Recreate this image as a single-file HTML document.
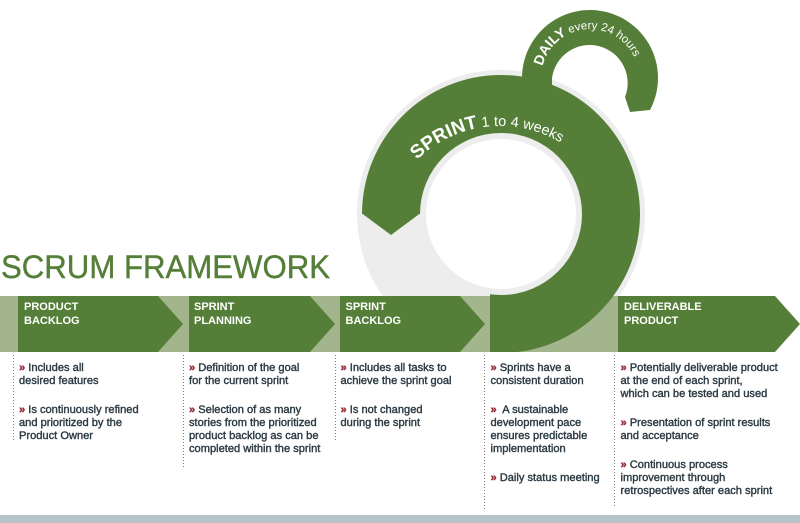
<!DOCTYPE html>
<html><head><meta charset="utf-8">
<style>
html,body{margin:0;padding:0;background:#fff;}
#wrap{position:relative;width:800px;height:523px;overflow:hidden;background:#fff;font-family:"Liberation Sans",Arial,sans-serif;}
svg{position:absolute;left:0;top:0;}
.hd{position:absolute;top:301.3px;color:#fff;font-weight:bold;font-size:11px;line-height:13.3px;white-space:nowrap;}
.col{position:absolute;top:361.6px;color:#2c3b44;font-size:11.1px;line-height:13.3px;white-space:nowrap;-webkit-text-stroke:0.4px #2c3b44;}
.col p{margin:0 0 15.4px 0;}
.col b{color:#962c3a;-webkit-text-stroke:0.4px #962c3a;}
</style></head><body>
<div id="wrap">
<svg width="800" height="523" viewBox="0 0 800 523" xmlns="http://www.w3.org/2000/svg">
  <defs>
    <clipPath id="gc">
      <rect x="0" y="0" width="800" height="214"/>
      <rect x="490" y="0" width="310" height="352"/>
    </clipPath>
    <clipPath id="above"><rect x="0" y="0" width="800" height="352"/></clipPath>
    <path id="sp" d="M417.1,159.8 A118.5,118.5 0 0,1 576.2,153.7"/>
    <path id="dp" d="M542.5,66.1 A49,49 0 0,1 638.8,73.7"/>
  </defs>
  <circle cx="501" cy="214" r="144" fill="#ecedec" clip-path="url(#above)"/>
  <rect x="0" y="296" width="618" height="56" fill="#a3b58c"/>
  <circle cx="501" cy="214" r="139" fill="#557f38" clip-path="url(#gc)"/>
  <polygon points="362,213.5 391,235 420,213.5" fill="#557f38"/>
  <circle cx="501" cy="214" r="81" fill="#ecedec"/>
  <circle cx="501" cy="214" r="75" fill="#fff"/>
  <polygon points="18,296 158,296 183,324 158,352 18,352" fill="#557f38"/>
  <polygon points="189,296 310,296 335,324 310,352 189,352" fill="#557f38"/>
  <polygon points="340,296 460,296 485,324 460,352 340,352" fill="#557f38"/>
  <polygon points="618,296 775,296 800,324 775,352 618,352" fill="#557f38"/>
  <path d="M522,78 A68,68 0 1,1 650,110 L630,112 L625,97 A38,38 0 1,0 552,78 Z" fill="#557f38"/>
  <rect x="522" y="77" width="30" height="22" fill="#557f38"/>
  <text fill="#fff" font-family="Liberation Sans, Arial, sans-serif"><textPath href="#sp"><tspan font-weight="bold" font-size="19">SPRINT</tspan><tspan font-size="14.5" dx="4">1 to 4 weeks</tspan></textPath></text>
  <text fill="#fff" font-family="Liberation Sans, Arial, sans-serif"><textPath href="#dp"><tspan font-weight="bold" font-size="14">DAILY</tspan><tspan font-size="11.5" dx="3">every 24 hours</tspan></textPath></text>
  <text x="1" y="278" font-family="Liberation Sans, Arial, sans-serif" font-size="32.5" fill="#557f38" stroke="#557f38" stroke-width="0.4" textLength="329" lengthAdjust="spacingAndGlyphs">SCRUM FRAMEWORK</text>
  <g stroke="#7d7d7d" stroke-width="1" stroke-dasharray="1 2">
    <line x1="13.5" y1="355" x2="13.5" y2="440"/>
    <line x1="183.5" y1="355" x2="183.5" y2="467"/>
    <line x1="335.5" y1="355" x2="335.5" y2="440"/>
    <line x1="484.5" y1="355" x2="484.5" y2="510"/>
    <line x1="614.5" y1="355" x2="614.5" y2="507"/>
  </g>
  <rect x="0" y="515" width="800" height="8" fill="#b7c3cb"/>
</svg>

<div class="hd" style="left:24px;">PRODUCT<br>BACKLOG</div>
<div class="hd" style="left:194px;">SPRINT<br>PLANNING</div>
<div class="hd" style="left:345.5px;">SPRINT<br>BACKLOG</div>
<div class="hd" style="left:624px;">DELIVERABLE<br>PRODUCT</div>

<div class="col" style="left:19px;">
<p><b>»</b> Includes all<br>desired features</p>
<p><b>»</b> Is continuously refined<br>and prioritized by the<br>Product Owner</p>
</div>
<div class="col" style="left:189px;">
<p><b>»</b> Definition of the goal<br>for the current sprint</p>
<p><b>»</b> Selection of as many<br>stories from the prioritized<br>product backlog as can be<br>completed within the sprint</p>
</div>
<div class="col" style="left:340.5px;">
<p><b>»</b> Includes all tasks to<br>achieve the sprint goal</p>
<p><b>»</b> Is not changed<br>during the sprint</p>
</div>
<div class="col" style="left:490.5px;">
<p><b>»</b> Sprints have a<br>consistent duration</p>
<p><b>»</b>&nbsp; A sustainable<br>development pace<br>ensures predictable<br>implementation</p>
<p><b>»</b> Daily status meeting</p>
</div>
<div class="col" style="left:620.5px;">
<p><b>»</b> Potentially deliverable product<br>at the end of each sprint,<br>which can be tested and used</p>
<p><b>»</b> Presentation of sprint results<br>and acceptance</p>
<p><b>»</b> Continuous process<br>improvement through<br>retrospectives after each sprint</p>
</div>
</div>
</body></html>
